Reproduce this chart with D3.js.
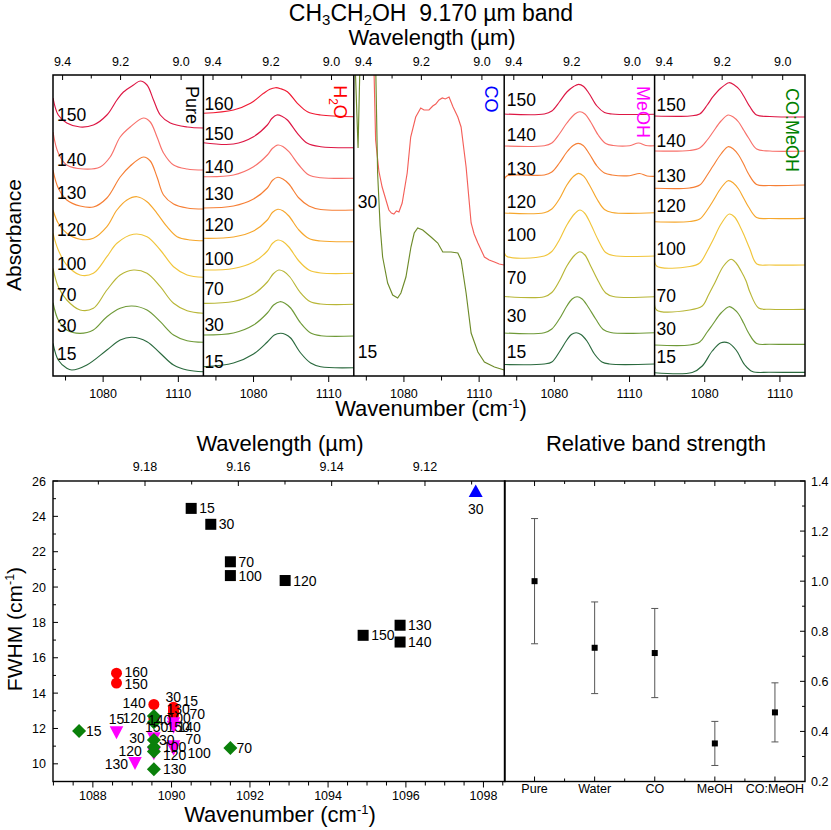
<!DOCTYPE html>
<html><head><meta charset="utf-8">
<script src="https://cdn.jsdelivr.net/npm/d3@7/dist/d3.min.js"></script>
<style>
html,body{margin:0;padding:0;background:#fff;}
svg{display:block;}
text{font-family:"Liberation Sans",Arial,Helvetica,sans-serif;fill:#000;}
</style></head><body>
<svg id="chart" width="831" height="830"></svg>
<script>
// ================= DATA =================
const temperatureColors = {160:"#f01a33",150:"#dd1744",140:"#f8716b",130:"#f67f35",120:"#f6a72d",100:"#f1c53b",70:"#b8b637",30:"#6f9a38",15:"#2b6a3e"};
const coColors = {30:"#f4605a",15:"#6e8b2a"};

// --- Pure CH3CH2OH spectra: [wavenumber, absorbance(offset)] ---
const pureTemps = [150,140,130,120,100,70,30,15];
const pureSpectra = [
 [[1060,2.78],[1062.1,2.61],[1065.5,2.53],[1070.8,2.49],[1076.1,2.51],[1081.5,2.61],[1085.5,2.76],[1088.1,2.84],[1092.1,2.91],[1094.8,2.95],[1097.5,2.91],[1100.1,2.76],[1102.8,2.61],[1106.8,2.53],[1113.5,2.49],[1120,2.48]],
 [[1060,2.44],[1062.1,2.23],[1065.5,2.11],[1072.1,2.07],[1078.8,2.09],[1082.8,2.19],[1086.8,2.39],[1090.8,2.49],[1096.1,2.58],[1098.8,2.54],[1101.5,2.39],[1104.1,2.23],[1108.1,2.11],[1113.5,2.07],[1120,2.06]],
 [[1060,2.06],[1062.1,1.88],[1065.5,1.76],[1070.8,1.70],[1076.1,1.69],[1081.5,1.78],[1086.8,1.99],[1090.8,2.10],[1096.1,2.19],[1098.8,2.15],[1101.5,1.99],[1104.1,1.81],[1108.1,1.72],[1113.5,1.68],[1120,1.67]],
 [[1060,1.66],[1062.1,1.527],[1065.5,1.427],[1070.8,1.367],[1076.1,1.377],[1081.5,1.493],[1085.5,1.66],[1089.5,1.76],[1093.5,1.793],[1097.5,1.743],[1101.5,1.627],[1105.5,1.493],[1109.5,1.393],[1114.8,1.36],[1120,1.353]],
 [[1060,1.427],[1062.1,1.26],[1065.5,1.11],[1070.8,1.01],[1076.1,1.027],[1081.5,1.193],[1085.5,1.327],[1092.1,1.417],[1097.5,1.393],[1102.8,1.26],[1108.1,1.093],[1113.5,1.01],[1120,0.987]],
 [[1060,1.077],[1062.1,0.893],[1065.5,0.76],[1070.8,0.66],[1076.1,0.677],[1081.5,0.86],[1086.8,1.01],[1092.1,1.06],[1097.5,1.027],[1102.8,0.893],[1108.1,0.727],[1113.5,0.653],[1120,0.627]],
 [[1060,0.733],[1062.1,0.56],[1065.5,0.46],[1070.8,0.427],[1076.1,0.46],[1081.5,0.593],[1086.8,0.677],[1091.5,0.70],[1097.5,0.66],[1102.8,0.543],[1108.1,0.41],[1113.5,0.353],[1120,0.337]],
 [[1060,0.327],[1062.1,0.16],[1065.5,0.077],[1067.5,0.06],[1073.5,0.11],[1081.5,0.26],[1086.8,0.36],[1091.5,0.387],[1097.5,0.343],[1102.8,0.227],[1108.1,0.11],[1113.5,0.06],[1120,0.043]]
];
const pureLabelLevels = [2.61,2.167,1.833,1.46,1.127,0.81,0.50,0.22];

// --- CH3CH2OH : H2O ---
const h2oTemps = [160,150,140,130,120,100,70,30,15];
const h2oSpectra = [
 [[1060,2.627],[1072,2.66],[1078.8,2.727],[1084,2.827],[1086.5,2.868],[1088.8,2.883],[1090.8,2.873],[1093.5,2.843],[1097.5,2.727],[1101.5,2.643],[1106.8,2.61],[1120,2.593]],
 [[1060,2.333],[1072,2.32],[1080,2.393],[1085.5,2.51],[1087.3,2.575],[1089.3,2.61],[1091.3,2.598],[1093.5,2.56],[1097.5,2.427],[1101.5,2.327],[1106.8,2.293],[1120,2.283]],
 [[1060,1.993],[1072,2.01],[1080,2.093],[1085.5,2.21],[1087.5,2.275],[1089.7,2.31],[1091.7,2.295],[1094.1,2.243],[1098.1,2.11],[1102.1,2.01],[1106.8,1.983],[1120,1.977]],
 [[1060,1.68],[1072,1.70],[1080,1.77],[1085.5,1.88],[1087.5,1.955],[1089.7,1.987],[1091.7,1.97],[1094.1,1.92],[1098.1,1.78],[1102.1,1.70],[1106.8,1.665],[1120,1.66]],
 [[1060,1.377],[1072,1.39],[1080,1.45],[1085.5,1.56],[1087.5,1.635],[1089.7,1.667],[1091.7,1.652],[1094.1,1.60],[1098.1,1.46],[1102.1,1.375],[1106.8,1.35],[1120,1.343]],
 [[1060,1.06],[1072,1.075],[1080,1.14],[1085.5,1.25],[1087.5,1.325],[1089.7,1.36],[1091.7,1.345],[1094.1,1.29],[1098.1,1.15],[1102.1,1.06],[1106.8,1.03],[1120,1.027]],
 [[1060,0.727],[1072,0.745],[1080,0.82],[1085.5,0.94],[1087.8,1.02],[1090.1,1.06],[1092.1,1.045],[1094.5,0.99],[1098.5,0.84],[1102.5,0.745],[1106.8,0.72],[1120,0.717]],
 [[1060,0.41],[1072,0.43],[1080,0.51],[1085.5,0.63],[1088,0.71],[1090.5,0.743],[1092.5,0.728],[1094.8,0.68],[1098.8,0.53],[1102.8,0.43],[1106.8,0.403],[1120,0.40]],
 [[1060,0.093],[1072,0.13],[1080,0.22],[1085.5,0.34],[1088.3,0.41],[1090.8,0.427],[1092.8,0.415],[1094.8,0.38],[1098.8,0.23],[1102.8,0.13],[1106.8,0.093],[1120,0.083]]
];
const h2oLabelLevels = [2.72,2.42,2.093,1.82,1.51,1.177,0.877,0.51,0.143];

// --- CH3CH2OH : CO ---
const coTemps = [30,15];
const coSpectra = [
 [[1067.2,3.6],[1068.1,3.01],[1068.7,2.36],[1070,2.05],[1071.3,1.89],[1074,1.66],[1075,1.63],[1076,1.62],[1077,1.65],[1078,1.64],[1079.3,1.73],[1081.3,2.03],[1082.7,2.39],[1084.7,2.59],[1086.7,2.68],[1088,2.66],[1090,2.66],[1091.5,2.70],[1092.7,2.72],[1094,2.76],[1095.3,2.78],[1096.5,2.77],[1098,2.79],[1099.6,2.69],[1101.5,2.59],[1102.8,2.49],[1104.8,2.09],[1106.8,1.53],[1108,1.42],[1109.5,1.33],[1112.1,1.19],[1114,1.16],[1116.1,1.14],[1118,1.12],[1120,1.11]],
 [[1060,3.5],[1061.7,2.28],[1062.8,3.5],[1064,3.8],[1067,3.8],[1068,3.4],[1068.8,3.01],[1069.5,2.03],[1070.5,1.5],[1071.5,1.19],[1073.5,0.93],[1075.5,0.81],[1077.5,0.78],[1078.8,0.83],[1080.8,0.99],[1082.8,1.29],[1084.1,1.43],[1085.5,1.48],[1087.5,1.46],[1090.8,1.39],[1093.5,1.33],[1095.5,1.24],[1098.8,1.24],[1101.5,1.23],[1102.8,1.16],[1104.8,0.83],[1106.8,0.43],[1109.5,0.24],[1112.1,0.14],[1116.1,0.09],[1120,0.06]]
];
const coLabelLevels = [1.74,0.24];

// --- CH3CH2OH : CH3OH ---
const meohTemps = [150,140,130,120,100,70,30,15];
const meohSpectra = [
 [[1060,2.62],[1076,2.62],[1079,2.65],[1082,2.74],[1085,2.84],[1087.7,2.895],[1089.7,2.917],[1091.7,2.895],[1094,2.82],[1097,2.70],[1100,2.635],[1103,2.62],[1120,2.617]],
 [[1060,2.30],[1076,2.303],[1079,2.33],[1082,2.42],[1085,2.53],[1088.2,2.62],[1090.2,2.643],[1092.2,2.62],[1094.5,2.54],[1097.5,2.41],[1100.5,2.325],[1103.5,2.305],[1110,2.303],[1113.6,2.33],[1116.5,2.305],[1120,2.303]],
 [[1060,1.96],[1061,2.00],[1076,2.01],[1079,2.04],[1082,2.13],[1085,2.24],[1087.5,2.305],[1089.5,2.327],[1091.5,2.305],[1094,2.22],[1097,2.10],[1100,2.03],[1103,2.01],[1110,2.003],[1114,2.025],[1117,2.0],[1120,1.997]],
 [[1060,1.63],[1076,1.633],[1079,1.67],[1082,1.77],[1085,1.91],[1087.7,1.998],[1089.7,2.027],[1091.7,1.998],[1094,1.91],[1097,1.77],[1100,1.665],[1103,1.635],[1120,1.633]],
 [[1060,1.277],[1060.8,1.20],[1076,1.20],[1079,1.245],[1082,1.36],[1085,1.51],[1088.2,1.625],[1090.2,1.66],[1092.2,1.625],[1094.5,1.52],[1097.5,1.36],[1100.5,1.235],[1103.5,1.205],[1120,1.20]],
 [[1060,0.795],[1076,0.793],[1079,0.835],[1082,0.95],[1085,1.10],[1088.2,1.21],[1090.2,1.243],[1092.2,1.21],[1094.5,1.10],[1097.5,0.95],[1100.5,0.83],[1103.5,0.795],[1120,0.793]],
 [[1060,0.43],[1076,0.433],[1079,0.47],[1082,0.57],[1085,0.70],[1087.1,0.77],[1089.1,0.793],[1091.1,0.77],[1093.5,0.69],[1096.5,0.57],[1099.5,0.465],[1102.5,0.435],[1120,0.433]],
 [[1060,0.115],[1076,0.12],[1079,0.14],[1082,0.24],[1085,0.36],[1086.8,0.415],[1088.7,0.433],[1090.6,0.415],[1093,0.35],[1096,0.22],[1099,0.14],[1102,0.12],[1120,0.12]]
];
const meohLabelLevels = [2.76,2.41,2.077,1.743,1.41,0.987,0.60,0.243];

// --- CH3CH2OH : CO : CH3OH ---
const comeohTemps = [150,140,130,120,100,70,30,15];
const comeohSpectra = [
 [[1060,2.60],[1074,2.60],[1078,2.62],[1081,2.71],[1083.3,2.793],[1086.5,2.88],[1089.7,2.933],[1091.8,2.91],[1094,2.86],[1096,2.78],[1098,2.693],[1100.7,2.61],[1106,2.595],[1120,2.59]],
 [[1060,2.25],[1074,2.255],[1078,2.28],[1081,2.36],[1083.3,2.44],[1086.5,2.55],[1089.3,2.61],[1091.4,2.59],[1093.5,2.54],[1095.5,2.46],[1097.5,2.38],[1100.7,2.27],[1106,2.25],[1120,2.25]],
 [[1060,1.877],[1074,1.88],[1078,1.91],[1081,2.01],[1083.3,2.10],[1086.5,2.22],[1089.3,2.293],[1091.4,2.27],[1093.5,2.21],[1095.5,2.12],[1097.5,2.02],[1100.7,1.915],[1106,1.905],[1120,1.91]],
 [[1060,1.543],[1074,1.545],[1078,1.57],[1081,1.66],[1083.3,1.75],[1086.5,1.88],[1089.3,1.953],[1091.4,1.93],[1093.5,1.87],[1095.5,1.78],[1097.5,1.69],[1100.7,1.585],[1106,1.575],[1120,1.577]],
 [[1060,1.21],[1060.8,1.10],[1074,1.095],[1078,1.13],[1081,1.25],[1083.3,1.36],[1086.5,1.52],[1089.8,1.62],[1091.9,1.59],[1094,1.50],[1096,1.39],[1098,1.27],[1100.8,1.12],[1106,1.11],[1120,1.11]],
 [[1060,0.76],[1060.8,0.66],[1074,0.66],[1079,0.70],[1081.5,0.81],[1084,0.93],[1087.5,1.10],[1090.5,1.167],[1092.5,1.13],[1094.5,1.05],[1096.5,0.95],[1098,0.84],[1101.5,0.68],[1106,0.667],[1120,0.667]],
 [[1060,0.31],[1074,0.31],[1078,0.34],[1081,0.44],[1083.3,0.52],[1086.5,0.63],[1089.7,0.693],[1091.6,0.67],[1093.5,0.62],[1095.5,0.53],[1097.5,0.43],[1100.7,0.325],[1106,0.317],[1120,0.317]],
 [[1060,0.033],[1075,0.035],[1079,0.10],[1083,0.25],[1086.5,0.333],[1089.5,0.33],[1092.5,0.26],[1096,0.11],[1099,0.045],[1106,0.037],[1120,0.037]]
];
const comeohLabelLevels = [2.71,2.353,2.003,1.70,1.277,0.80,0.47,0.193];

// --- spectral axes tick values ---
const wnTicks = [1065,1080,1095,1110];
const wnTickLabels = [1080,1110];
const wlTicksTop = [9.4,9.3,9.2,9.1,9.0];
const wlTickLabelsTop = [9.4,9.2,9.0];

// --- FWHM scatter ---
const pureT = [15,30,70,100,120,130,140,150];
const pureNu = [1090.5,1091.0,1091.5,1091.5,1092.9,1095.85,1095.85,1094.9];
const pureFwhm = [24.45,23.55,21.43,20.65,20.37,17.84,16.89,17.27];
const coT = [30];
const coNu = [1097.8];
const coFwhm = [25.4];
const h2oT = [15,30,70,100,120,130,140,150,160];
const h2oNu = [1090.05,1090.05,1090.05,1090.05,1089.55,1090.05,1089.55,1088.6,1088.6];
const h2oFwhm = [13.05,13.2,12.85,12.75,12.55,12.95,13.36,14.57,15.13];
const meohT = [15,30,70,100,120,130,140,150];
const meohNu = [1088.6,1089.55,1090.05,1090.05,1089.55,1089.07,1090.05,1090.05];
const meohFwhm = [11.78,11.45,11.0,10.85,10.6,10.05,12.1,12.3];
const comeohT = [15,30,70,100,120,130,140,150];
const comeohNu = [1087.65,1089.55,1091.5,1089.55,1089.55,1089.55,1089.55,1089.55];
const comeohFwhm = [11.85,11.35,10.9,10.95,10.7,9.7,12.7,12.35];
const fwhmTicks = [10,12,14,16,18,20,22,24,26];
const wnTicksBottom = [1088,1090,1092,1094,1096,1098];
const wlTicksScatter = [9.18,9.16,9.14,9.12];

// --- Relative band strength ---
const strengthCats = ["Pure","Water","CO","MeOH","CO:MeOH"];
const strengthVals = [1.0,0.734,0.713,0.352,0.476];
const strengthErr = [0.25,0.183,0.178,0.088,0.118];
const strengthTicks = [0.2,0.4,0.6,0.8,1.0,1.2,1.4];

// ================= DRAWING =================
const svg = d3.select("#chart");
const FS_TICK = 12.5;
const topY0 = 75, topY1 = 376;
const panelLeft = 53, panelW = 150.4;
const yTop = d3.scaleLinear().domain([0,3.01]).range([topY1,topY0]);

function ln(g,x1,y1,x2,y2,w,c){ g.append("line").attr("x1",x1).attr("y1",y1).attr("x2",x2).attr("y2",y2).attr("stroke",c||"#000").attr("stroke-width",w||1); }

const smooth = d3.curveCatmullRom.alpha(0.5);
const panels = [
 {temps:pureTemps, spectra:pureSpectra, levels:pureLabelLevels, colors:pureTemps.map(t=>temperatureColors[t]), curve:smooth, inset:4},
 {temps:h2oTemps, spectra:h2oSpectra, levels:h2oLabelLevels, colors:h2oTemps.map(t=>temperatureColors[t]), curve:smooth, inset:1},
 {temps:coTemps, spectra:coSpectra, levels:coLabelLevels, colors:coTemps.map(t=>coColors[t]), curve:d3.curveLinear, inset:4},
 {temps:meohTemps, spectra:meohSpectra, levels:meohLabelLevels, colors:meohTemps.map(t=>temperatureColors[t]), curve:smooth, inset:2.5},
 {temps:comeohTemps, spectra:comeohSpectra, levels:comeohLabelLevels, colors:comeohTemps.map(t=>temperatureColors[t]), curve:smooth, inset:2}
];

const defs = svg.append("defs");
panels.forEach((p,i)=>{
  const x0 = panelLeft + i*panelW, x1 = x0 + panelW;
  const xs = d3.scaleLinear().domain([1060,1120]).range([x0,x1]);
  defs.append("clipPath").attr("id","clip"+i).append("rect").attr("x",x0).attr("y",topY0).attr("width",panelW).attr("height",topY1-topY0);
  const g = svg.append("g").attr("clip-path","url(#clip"+i+")");
  const line = d3.line().x(d=>xs(d[0])).y(d=>yTop(d[1])).curve(p.curve);
  p.spectra.forEach((s,j)=>{
    g.append("path").attr("d",line(s)).attr("fill","none").attr("stroke",p.colors[j]).attr("stroke-width",1.15);
  });
  p.temps.forEach((t,j)=>{
    svg.append("text").attr("x",x0+p.inset).attr("y",yTop(p.levels[j])+6.3).attr("font-size",17.5).text(t);
  });
  const ax = svg.append("g");
  wnTicks.forEach(v=>{
    const x = xs(v); const major = wnTickLabels.includes(v);
    ln(ax,x,topY1,x,topY1+(major?6:4.5),1);
    if(major) ax.append("text").attr("x",x).attr("y",397.5).attr("text-anchor","middle").attr("font-size",FS_TICK).text(v);
  });
  wlTicksTop.forEach(v=>{
    const x = xs(10000/v); const major = wlTickLabelsTop.includes(v);
    ln(ax,x,topY0,x,topY0+(major?5:3.5),1);
    if(major) ax.append("text").attr("x",x).attr("y",66).attr("text-anchor","middle").attr("font-size",FS_TICK).text(v.toFixed(1));
  });
  if(i>0) ln(svg,x0,topY0,x0,topY1,1.5);
});
svg.append("rect").attr("x",panelLeft).attr("y",topY0).attr("width",panelW*5).attr("height",topY1-topY0).attr("fill","none").attr("stroke","#000").attr("stroke-width",1.5);

// panel names (rotated)
function rotLabel(x,y,color,build){
  const t = svg.append("text").attr("transform",`translate(${x},${y}) rotate(90)`).attr("text-anchor","middle").attr("dy","0.36em").attr("font-size",18).style("fill",color);
  build(t);
}
rotLabel(192,105,"#000",t=>t.text("Pure"));
rotLabel(340,102,"#ff0000",t=>{ t.append("tspan").text("H"); t.append("tspan").attr("font-size",12).attr("dy",5).text("2"); t.append("tspan").attr("dy",-5).text("O"); });
rotLabel(491,99,"#0000ff",t=>t.text("CO"));
rotLabel(643,112,"#ff00ff",t=>t.text("MeOH"));
rotLabel(792,130,"#008000",t=>t.text("CO:MeOH"));

// titles
const title = svg.append("text").attr("x",431).attr("y",21).attr("text-anchor","middle").attr("font-size",23);
title.append("tspan").text("CH");
title.append("tspan").attr("font-size",15).attr("dy",4).text("3");
title.append("tspan").attr("dy",-4).text("CH");
title.append("tspan").attr("font-size",15).attr("dy",4).text("2");
title.append("tspan").attr("dy",-4).text("OH\u00a0\u00a09.170 \u00b5m band");
svg.append("text").attr("x",432).attr("y",45).attr("text-anchor","middle").attr("font-size",22).text("Wavelength (\u00b5m)");
function wnTitle(x,y){
  const t = svg.append("text").attr("x",x).attr("y",y).attr("text-anchor","middle").attr("font-size",22);
  t.append("tspan").text("Wavenumber (cm");
  t.append("tspan").attr("font-size",13).attr("dy",-8).text("-1");
  t.append("tspan").attr("dy",8).text(")");
}
wnTitle(431,416);
svg.append("text").attr("transform","translate(21,235) rotate(-90)").attr("text-anchor","middle").attr("font-size",21).text("Absorbance");

// ---------- FWHM scatter ----------
const sx0 = 53, sx1 = 505, sy0 = 481, sy1 = 781.5;
const xS = d3.scaleLinear().domain([9.19972,9.10285]).range([sx0,sx1]); // linear in wavelength
const yS = d3.scaleLinear().domain([9,26]).range([sy1,sy0]);
const gs = svg.append("g");
d3.range(9,27).forEach(v=>{
  const y = yS(v); const major = v%2===0;
  if(v>9) ln(gs,sx0,y,sx0+(major?5:3),y,1);
  if(major) gs.append("text").attr("x",46).attr("y",y+4.5).attr("text-anchor","end").attr("font-size",FS_TICK).text(v);
});
d3.range(9.11,9.195,0.01).forEach(v=>{
  const vv = Math.round(v*100)/100; const x = xS(vv);
  const major = wlTicksScatter.some(m=>Math.abs(m-vv)<1e-6);
  ln(gs,x,sy0,x,sy0+(major?5:3.5),1);
  if(major) gs.append("text").attr("x",x).attr("y",471).attr("text-anchor","middle").attr("font-size",FS_TICK).text(vv.toFixed(2));
});
d3.range(1087,1098.51,0.5).forEach(v=>{
  const x = xS(10000/v); if(x<sx0-0.5||x>sx1+0.5) return;
  const major = wnTicksBottom.includes(v);
  ln(gs,x,sy1,x,sy1+(major?6:4),1);
  if(major) gs.append("text").attr("x",x).attr("y",800).attr("text-anchor","middle").attr("font-size",FS_TICK).text(v);
});
gs.append("rect").attr("x",sx0).attr("y",sy0).attr("width",sx1-sx0).attr("height",sy1-sy0).attr("fill","none").attr("stroke","#000").attr("stroke-width",1.4);

svg.append("text").attr("x",280).attr("y",451).attr("text-anchor","middle").attr("font-size",22).text("Wavelength (\u00b5m)");
wnTitle(280,822);
const fw = svg.append("text").attr("transform","translate(22,629) rotate(-90)").attr("text-anchor","middle").attr("font-size",21);
fw.append("tspan").text("FWHM (cm"); fw.append("tspan").attr("font-size",12.5).attr("dy",-8).text("-1"); fw.append("tspan").attr("dy",8).text(")");

const symbols = {
  square:(g,x,y,c)=>g.append("rect").attr("x",x-5.5).attr("y",y-5.5).attr("width",11).attr("height",11).attr("fill",c),
  circle:(g,x,y,c)=>g.append("circle").attr("cx",x).attr("cy",y).attr("r",5.5).attr("fill",c),
  triUp:(g,x,y,c)=>g.append("path").attr("d",`M${x},${y-7}L${x+7},${y+5.5}L${x-7},${y+5.5}Z`).attr("fill",c),
  triDown:(g,x,y,c)=>g.append("path").attr("d",`M${x-6.8},${y-6}L${x+6.8},${y-6}L${x},${y+7}Z`).attr("fill",c),
  diamond:(g,x,y,c)=>g.append("path").attr("d",`M${x},${y-7}L${x+7},${y}L${x},${y+7}L${x-7},${y}Z`).attr("fill",c)
};
// label placement per point: [dx, dy(center), anchor]
const scatterSeries = [
  {T:pureT, nu:pureNu, f:pureFwhm, sym:"square", color:"#000",
   lab:pureT.map(()=>[8,0,"start"])},
  {T:h2oT, nu:h2oNu, f:h2oFwhm, sym:"circle", color:"#ff0000",
   lab:[[9,-9,"start"],[-8,-10,"start"],[16,1,"start"],[-6,3,"start"],[-8,-1,"end"],[-7,-3,"start"],[-8,-1,"end"],[8,1,"start"],[8,-1,"start"]]},
  {T:coT, nu:coNu, f:coFwhm, sym:"triUp", color:"#0000ff", lab:[[0,17,"middle"]]},
  {T:meohT, nu:meohNu, f:meohFwhm, sym:"triDown", color:"#ff00ff",
   lab:[[0,-13,"middle"],[-9,0,"end"],[12,-7,"start"],[14,4,"start"],[-12,-2,"end"],[-7,1,"end"],[4,0,"start"],[-7,4,"start"]]},
  {T:comeohT, nu:comeohNu, f:comeohFwhm, sym:"diamond", color:"#0a800a",
   lab:[[7,0,"start"],[5,0,"start"],[6,0,"start"],[9,0,"start"],[9,4,"start"],[9,0,"start"],[-6,4,"start"],[-9,5,"start"]]}
];
const gp = svg.append("g");
scatterSeries.forEach(s=>{
  s.T.forEach((t,i)=>{
    const x = xS(10000/s.nu[i]), y = yS(s.f[i]);
    symbols[s.sym](gp,x,y,s.color);
  });
  s.T.forEach((t,i)=>{
    const x = xS(10000/s.nu[i]), y = yS(s.f[i]);
    const L = s.lab[i];
    gp.append("text").attr("x",x+L[0]).attr("y",y+L[1]+5).attr("text-anchor",L[2]).attr("font-size",14).text(t);
  });
});

// ---------- Relative band strength ----------
const rx0 = 504.5, rx1 = 805, ry0 = 481, ry1 = 781.5;
const xR = d3.scaleLinear().domain([0.5,5.5]).range([rx0,rx1]);
const yR = d3.scaleLinear().domain([0.2,1.4]).range([ry1,ry0]);
const gr = svg.append("g");
d3.range(0.2,1.41,0.1).forEach(v=>{
  const vv = Math.round(v*10)/10; const y = yR(vv);
  const major = strengthTicks.some(m=>Math.abs(m-vv)<1e-6);
  ln(gr,rx1,y,rx1-(major?5:3),y,1);
  if(major) gr.append("text").attr("x",811).attr("y",y+4.5).attr("font-size",FS_TICK).text(vv.toFixed(1));
});
d3.range(1,5.01,0.5).forEach(v=>{
  const x = xR(v); const major = Number.isInteger(v);
  ln(gr,x,ry0,x,ry0+(major?5:3),1);
  ln(gr,x,ry1,x,ry1-(major?5:3),1);
});
strengthCats.forEach((c,i)=>{
  gr.append("text").attr("x",xR(i+1)).attr("y",793).attr("text-anchor","middle").attr("font-size",FS_TICK).text(c);
});
strengthVals.forEach((v,i)=>{
  const x = xR(i+1), e = strengthErr[i];
  ln(gr,x,yR(v-e),x,yR(v+e),1,"#555");
  ln(gr,x-3.5,yR(v+e),x+3.5,yR(v+e),1,"#555");
  ln(gr,x-3.5,yR(v-e),x+3.5,yR(v-e),1,"#555");
  gr.append("rect").attr("x",x-3).attr("y",yR(v)-3).attr("width",6).attr("height",6).attr("fill","#000");
});
gr.append("rect").attr("x",rx0).attr("y",ry0).attr("width",rx1-rx0).attr("height",ry1-ry0).attr("fill","none").attr("stroke","#000").attr("stroke-width",1.4);
svg.append("text").attr("x",656).attr("y",451).attr("text-anchor","middle").attr("font-size",22).text("Relative band strength");
</script>
</body></html>
